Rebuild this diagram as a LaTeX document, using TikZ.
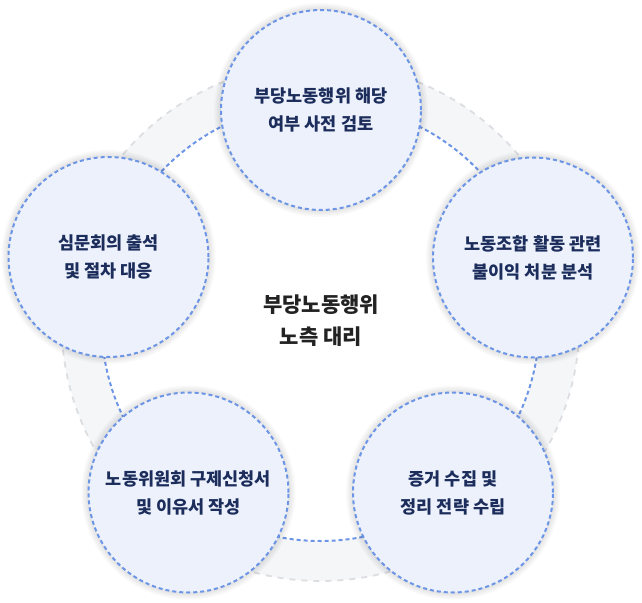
\documentclass[tikz,border=0pt]{standalone}
\usepackage{fontspec}
\setmainfont{Noto Sans CJK KR}
\usetikzlibrary{positioning}
\definecolor{ringfill}{HTML}{F5F6F8}
\definecolor{ringgray}{HTML}{DCDEE2}
\definecolor{dashblue}{HTML}{6D95E6}
\definecolor{cfill}{HTML}{ECF1FC}
\definecolor{navy}{HTML}{1C2D5C}
\definecolor{dark}{HTML}{222222}
\tikzset{
  stepcircle/.style={circle, minimum size=200pt, inner sep=0pt, fill=cfill,
    draw=dashblue, line width=2pt, dash pattern=on 4pt off 3pt,
    text=navy, align=center, font=\bfseries\fontsize{17.5pt}{28pt}\selectfont},
  glow/.style={fill=black, opacity=0.025},
  centertext/.style={align=center, text=dark, font=\bfseries\fontsize{21pt}{32pt}\selectfont}
}
\begin{document}
\begin{tikzpicture}[x=1pt,y=-1pt]
\useasboundingbox (0,0) rectangle (642,602);
% ring
\coordinate (c) at (320.5,322);
\fill[ringfill, even odd rule] (c) circle[radius=259] (c) circle[radius=219];
\draw[ringgray, line width=1.8pt, dash pattern=on 6pt off 6pt] (c) circle[radius=259];
\draw[dashblue, line width=2pt, dash pattern=on 4pt off 3pt] (c) circle[radius=219];
% glows
\foreach \p in {(321,110),(108.5,257),(533,257.5),(188.5,492.5),(453,492.5)}{
  \foreach \r in {101,102.5,104,105.5,107}{
    \fill[glow] \p circle[radius=\r];
  }
}
% circles
\node[stepcircle] (top) at (321,110) {부당노동행위 해당\\여부 사전 검토};
\node[stepcircle] (left) at (108.5,257) {심문회의 출석\\및 절차 대응};
\node[stepcircle] (right) at (533,257.5) {노동조합 활동 관련\\불이익 처분 분석};
\node[stepcircle] (bl) at (188.5,492.5) {노동위원회 구제신청서\\및 이유서 작성};
\node[stepcircle] (br) at (453,492.5) {증거 수집 및\\정리 전략 수립};
% center
\node[centertext] (mid) at (321,321) {부당노동행위\\노측 대리};
\end{tikzpicture}
\end{document}
